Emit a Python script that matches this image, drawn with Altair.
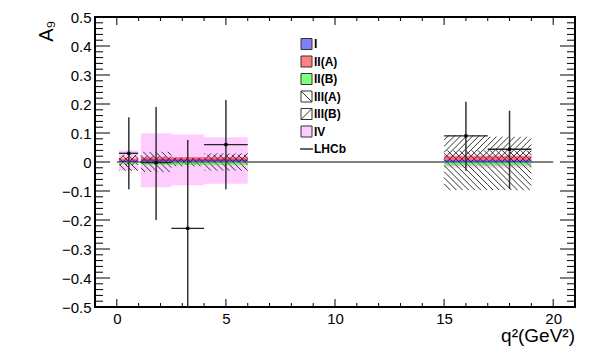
import altair as alt
import pandas as pd

# ---------------- data ----------------
bin_lo = [0.1, 1.1, 2.5, 4.0, 15.0, 17.0]
bin_hi = [0.98, 2.5, 4.0, 6.0, 17.0, 19.0]

# LHCb measurement
lhcb_x = [0.55, 1.8, 3.25, 5.0, 16.0, 18.0]
lhcb_val = [0.03, -0.002, -0.229, 0.06, 0.09, 0.044]
lhcb_top = [0.154, 0.19, 0.076, 0.214, 0.208, 0.177]
lhcb_bot = [-0.094, -0.20, -0.534, -0.094, -0.03, -0.093]

# theory bands (lower, upper) per bin
I_lo = [0.0, 0.003, 0.003, 0.003, 0.002, 0.002]
I_hi = [0.005, 0.009, 0.009, 0.009, 0.008, 0.008]
IIA_lo = [0.002, 0.004, 0.004, 0.004, 0.008, 0.008]
IIA_hi = [0.012, 0.016, 0.016, 0.016, 0.02, 0.02]
IIB_lo = [-0.006, -0.01, -0.01, -0.01, -0.012, -0.012]
IIB_hi = [0.0, -0.001, -0.001, -0.001, -0.002, -0.002]
IIIA_lo = [-0.03, -0.035, -0.015, -0.03, -0.097, -0.097]
IIIA_hi = [0.02, 0.035, 0.015, 0.025, 0.04, 0.04]
IIIB_lo = [-0.01, -0.005, -0.005, 0.0, 0.0, 0.0]
IIIB_hi = [0.025, 0.02, 0.015, 0.03, 0.093, 0.087]
IV_lo = [-0.03, -0.087, -0.08, -0.075, -0.02, -0.02]
IV_hi = [0.04, 0.099, 0.095, 0.085, 0.025, 0.025]

sm_line_x = [0, 20]
sm_line_y = [0, 0]

x_major = [0, 5, 10, 15, 20]
x_minor = list(range(-1, 22))
y_major = [-0.5, -0.4, -0.3, -0.2, -0.1, 0.0, 0.1, 0.2, 0.3, 0.4, 0.5]
y_minor = [round(-0.5 + 0.02 * i, 2) for i in range(51)]

legend_names = ["I", "II(A)", "II(B)", "III(A)", "III(B)", "IV", "LHCb"]
x_title = "q²(GeV²)"
y_title = "A₉"

# ---------------- layout ----------------
W, H = 480, 290
FONT = "Liberation Sans"
XMIN, XMAX = -1, 21

xs = alt.Scale(domain=[XMIN, XMAX], nice=False, zero=False)
ys = alt.Scale(domain=[-0.5, 0.5], nice=False, zero=False)
xaxis = alt.Axis(values=x_major, title=None, ticks=False, domain=False, grid=False,
                 labelFont=FONT, labelFontSize=15, labelColor="black",
                 labelPadding=4, labelFlush=False, labelOverlap=False)
yaxis = alt.Axis(values=y_major, ticks=False, domain=False, grid=False,
                 labelFont=FONT, labelFontSize=15, labelColor="black",
                 labelPadding=4, labelFlush=False, labelOverlap=False,
                 labelExpr="datum.value == 0 ? '0' : format(datum.value, '.1f')",
                 title=y_title, titleAngle=270, titleAnchor="end", titleAlign="right",
                 titleBaseline="middle", titleX=-49, titleY=3,
                 titleFont=FONT, titleFontSize=20, titleFontWeight="normal",
                 titleColor="black")


def X(f):
    return alt.X(f, type="quantitative", scale=xs, axis=xaxis)


def Y(f):
    return alt.Y(f, type="quantitative", scale=ys, axis=yaxis)


def band_df(lo, hi):
    return pd.DataFrame({"x1": bin_lo, "x2": bin_hi, "y1": lo, "y2": hi})


def band(lo, hi, color, opacity):
    return alt.Chart(band_df(lo, hi)).mark_rect(color=color, opacity=opacity).encode(
        x=X("x1"), x2=alt.X2("x2"), y=Y("y1"), y2=alt.Y2("y2"))


R = (H / 1.0) / (W / (XMAX - XMIN))  # y-units -> x-units pixel ratio
SP = 0.28  # hatch spacing along x


def hatch(lo, hi, forward):
    c = alt.Chart(band_df(lo, hi)).transform_calculate(
        Y1=f"datum.y1*{R}").transform_calculate(Y2=f"datum.y2*{R}")
    if forward:  # "/" lines : Y - x = c
        c = c.transform_calculate(
            ks=f"sequence(ceil((datum.Y1-datum.x2)/{SP}), floor((datum.Y2-datum.x1)/{SP})+1)")
        c = c.transform_flatten(["ks"]).transform_calculate(cc=f"datum.ks*{SP}")
        c = c.transform_calculate(xa="max(datum.x1, datum.Y1-datum.cc)")
        c = c.transform_calculate(xb="min(datum.x2, datum.Y2-datum.cc)")
        c = c.transform_calculate(ya=f"(datum.xa+datum.cc)/{R}")
        c = c.transform_calculate(yb=f"(datum.xb+datum.cc)/{R}")
    else:  # "\" lines : Y + x = c
        c = c.transform_calculate(
            ks=f"sequence(ceil((datum.x1+datum.Y1)/{SP}), floor((datum.x2+datum.Y2)/{SP})+1)")
        c = c.transform_flatten(["ks"]).transform_calculate(cc=f"datum.ks*{SP}")
        c = c.transform_calculate(xa="max(datum.x1, datum.cc-datum.Y2)")
        c = c.transform_calculate(xb="min(datum.x2, datum.cc-datum.Y1)")
        c = c.transform_calculate(ya=f"(datum.cc-datum.xa)/{R}")
        c = c.transform_calculate(yb=f"(datum.cc-datum.xb)/{R}")
    return c.transform_filter("datum.xb > datum.xa").mark_rule(
        color="#333333", strokeWidth=1).encode(
        x=X("xa"), x2=alt.X2("xb"), y=Y("ya"), y2=alt.Y2("yb"))


# zero (SM) line
zero = alt.Chart(pd.DataFrame({"x1": [sm_line_x[0]], "x2": [sm_line_x[1]], "y": [sm_line_y[0]]})).mark_rule(
    color="#808080", strokeWidth=2).encode(x=X("x1"), x2=alt.X2("x2"), y=Y("y"))

layers = [zero,
          band(IV_lo, IV_hi, "#ff00ff", 0.2),
          hatch(IIIA_lo, IIIA_hi, False),
          hatch(IIIB_lo, IIIB_hi, True),
          band(IIB_lo, IIB_hi, "#00ff00", 0.5),
          band(IIA_lo, IIA_hi, "#ff0000", 0.5),
          band(I_lo, I_hi, "#0000ff", 0.5)]

lhcb = pd.DataFrame({"x": lhcb_x, "x1": bin_lo, "x2": bin_hi, "v": lhcb_val,
                     "top": lhcb_top, "bot": lhcb_bot})
layers.append(alt.Chart(lhcb).mark_rule(color="#333333", strokeWidth=1.5, clip=True).encode(
    x=X("x"), y=Y("bot"), y2=alt.Y2("top")))
layers.append(alt.Chart(lhcb).mark_rule(color="#222222", strokeWidth=1.3).encode(
    x=X("x1"), x2=alt.X2("x2"), y=Y("v")))
layers.append(alt.Chart(lhcb).mark_square(color="black", size=10, opacity=1).encode(
    x=X("x"), y=Y("v")))

# ticks (inward, on all four sides)
ymaj = pd.DataFrame({"v": y_major})
ymin = pd.DataFrame({"v": [v for v in y_minor if round(v * 10, 6) != round(v * 10)]})
xmaj = pd.DataFrame({"v": x_major})
xmin_ = pd.DataFrame({"v": [v for v in x_minor if v not in x_major]})
for df, L in ((ymaj, 15), (ymin, 8)):
    layers.append(alt.Chart(df).mark_rule(color="black", strokeWidth=1).encode(
        x=alt.value(0), x2=alt.value(L), y=Y("v")))
    layers.append(alt.Chart(df).mark_rule(color="black", strokeWidth=1).encode(
        x=alt.value(W), x2=alt.value(W - L), y=Y("v")))
for df, L in ((xmaj, 8), (xmin_, 4)):
    layers.append(alt.Chart(df).mark_rule(color="black", strokeWidth=1).encode(
        y=alt.value(H), y2=alt.value(H - L), x=X("v")))
    layers.append(alt.Chart(df).mark_rule(color="black", strokeWidth=1).encode(
        y=alt.value(0), y2=alt.value(L), x=X("v")))

# legend (pixel layout)
LX0, LX1 = 206, 217
leg_y = [27 + 17.5 * i for i in range(len(legend_names))]
leg = pd.DataFrame({"name": legend_names, "yc": leg_y,
                    "y0": [y - 5.5 for y in leg_y], "y1": [y + 5.5 for y in leg_y]})
leg["fill"] = ["#8080ff", "#ff8080", "#80ff80", "white", "white", "#ffccff", "white"]
boxes = leg[leg["name"] != "LHCb"]
layers.append(alt.Chart(boxes).mark_rect(stroke="#333333", strokeWidth=1).encode(
    x=alt.value(LX0), x2=alt.value(LX1),
    y=alt.Y("y0:Q", scale=None), y2=alt.Y2("y1"),
    fill=alt.Fill("fill:N", scale=None)))
layers.append(alt.Chart(leg[leg["name"] == "III(A)"]).mark_rule(color="#333333").encode(
    x=alt.value(LX0), x2=alt.value(LX1), y=alt.Y("y0:Q", scale=None), y2=alt.Y2("y1")))
layers.append(alt.Chart(leg[leg["name"] == "III(B)"]).mark_rule(color="#333333").encode(
    x=alt.value(LX0), x2=alt.value(LX1), y=alt.Y("y1:Q", scale=None), y2=alt.Y2("y0")))
layers.append(alt.Chart(leg[leg["name"] == "LHCb"]).mark_rule(color="#333333", strokeWidth=1.5).encode(
    x=alt.value(LX0 - 1), x2=alt.value(LX1 + 1), y=alt.Y("yc:Q", scale=None)))
layers.append(alt.Chart(leg).mark_text(align="left", baseline="middle", font=FONT,
                                        fontWeight="bold", fontSize=12, color="black").encode(
    x=alt.value(LX1 + 2), y=alt.Y("yc:Q", scale=None), text="name:N"))

# x axis title
layers.append(alt.Chart(pd.DataFrame({"t": [x_title]})).mark_text(
    align="right", baseline="middle", font=FONT, fontSize=19, color="black").encode(
    x=alt.value(W), y=alt.value(H + 29), text="t:N"))

chart = alt.layer(*layers).properties(
    width=W, height=H,
    autosize=alt.AutoSizeParams(type="none"),
    padding={"left": 87, "top": 9, "right": 16, "bottom": 39},
).configure_view(stroke="black", strokeWidth=2)

chart.save("out.html", embed_options={"renderer": "svg", "actions": False})
